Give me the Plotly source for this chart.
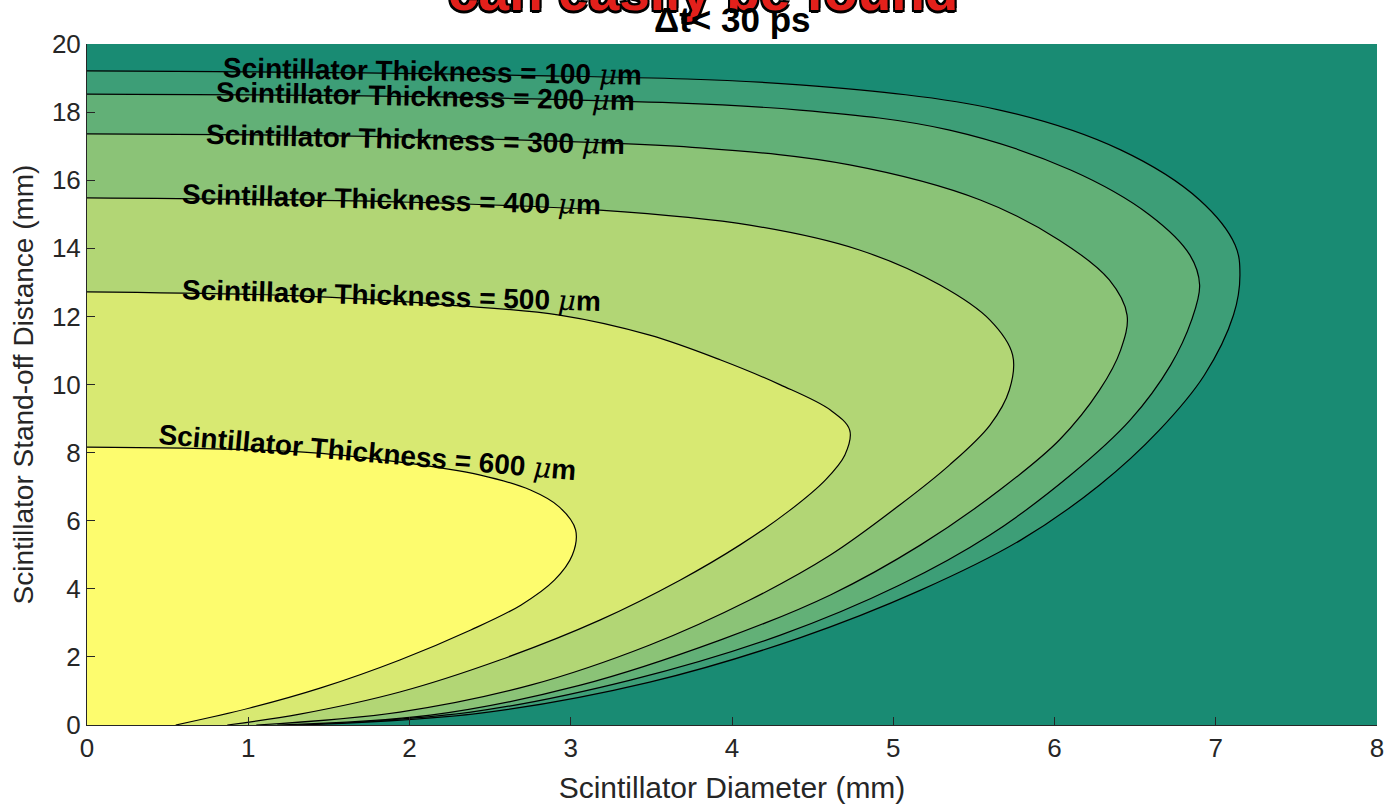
import plotly.graph_objects as go

# Contour levels (scintillator thickness, um)
levels = [100, 200, 300, 400, 500, 600]

# Contour lines: diameter (mm) vs stand-off distance (mm)
c100_x = [0, 2.56, 4.42, 5.66, 6.41, 6.90, 7.12, 7.15, 7.11, 6.93, 6.65, 6.28, 5.79, 5.17, 4.42, 3.49, 2.44, 1.32]
c100_y = [19.21, 19.09, 18.80, 18.06, 16.89, 15.42, 14.10, 13.22, 12.04, 10.28, 8.66, 7.05, 5.43, 3.96, 2.56, 1.26, 0.35, 0]
c200_x = [0, 2.56, 4.42, 5.35, 6.10, 6.59, 6.84, 6.90, 6.85, 6.72, 6.47, 6.10, 5.60, 5.04, 4.30, 3.37, 2.38, 1.26]
c200_y = [18.53, 18.41, 18.06, 17.47, 16.30, 14.98, 13.80, 12.92, 11.89, 10.57, 8.96, 7.34, 5.58, 4.11, 2.64, 1.32, 0.38, 0]
c300_x = [0, 1.94, 3.80, 4.73, 5.54, 6.03, 6.34, 6.45, 6.41, 6.28, 6.03, 5.66, 5.17, 4.61, 3.93, 3.06, 2.13, 1.18]
c300_y = [17.36, 17.27, 16.95, 16.45, 15.42, 14.24, 13.07, 12.04, 11.01, 9.84, 8.37, 6.90, 5.29, 3.82, 2.50, 1.17, 0.29, 0]
c400_x = [0, 1.94, 3.18, 4.11, 4.79, 5.29, 5.60, 5.74, 5.72, 5.60, 5.35, 5.04, 4.61, 4.11, 3.49, 2.75, 1.94, 1.05]
c400_y = [15.48, 15.36, 15.12, 14.68, 13.95, 12.92, 11.89, 10.87, 9.84, 8.81, 7.64, 6.46, 4.99, 3.67, 2.35, 1.17, 0.38, 0]
c500_x = [0, 1.32, 2.25, 2.93, 3.49, 3.93, 4.30, 4.61, 4.73, 4.70, 4.58, 4.36, 4.05, 3.68, 3.18, 2.56, 1.94, 1.32, 0.87]
c500_y = [12.72, 12.60, 12.33, 12.04, 11.45, 10.72, 9.99, 9.25, 8.66, 7.93, 7.20, 6.31, 5.29, 4.26, 3.08, 1.91, 0.97, 0.32, 0]
c600_x = [0, 1.32, 1.94, 2.44, 2.75, 2.93, 3.03, 3.01, 2.90, 2.69, 2.38, 1.94, 1.45, 1.01, 0.55]
c600_y = [8.16, 8.02, 7.72, 7.34, 6.90, 6.40, 5.73, 4.99, 4.26, 3.52, 2.79, 1.91, 1.09, 0.50, 0]

curves_x = [c100_x, c200_x, c300_x, c400_x, c500_x, c600_x]
curves_y = [c100_y, c200_y, c300_y, c400_y, c500_y, c600_y]

# Label positions (data coords) and rotation
label_x = [2.14, 2.10, 2.04, 1.89, 1.89, 1.74]
label_y = [19.18, 18.47, 17.21, 15.42, 12.60, 8.00]
label_angle = [1.0, 1.2, 1.4, 1.5, 1.6, 5.0]

x_ticks = [0, 1, 2, 3, 4, 5, 6, 7, 8]
y_ticks = [0, 2, 4, 6, 8, 10, 12, 14, 16, 18, 20]

bg_color = "#198b73"
fill_colors = ["#3d9e77", "#62b077", "#8bc377", "#b2d675", "#d8e972", "#fdfc6e"]

fig = go.Figure()
for cx, cy, col in zip(curves_x, curves_y, fill_colors):
    fig.add_trace(go.Scatter(
        x=cx, y=cy, mode="lines", fill="tozerox", fillcolor=col,
        line=dict(color="black", width=1.2, shape="spline", smoothing=1.0),
        hoverinfo="skip", showlegend=False))

font_family = "Liberation Sans, Arial, sans-serif"
mu = '<span style="font-family:DejaVu Serif;font-weight:normal"><i>\u03bc</i></span>'
for lv, lx, ly, ang in zip(levels, label_x, label_y, label_angle):
    fig.add_annotation(
        x=lx, y=ly, xref="x", yref="y",
        text=f"<b>Scintillator Thickness = {lv} </b>{mu}<b>m</b>",
        showarrow=False, textangle=ang,
        font=dict(family=font_family, size=28, color="black"))

# Titles
fig.add_annotation(
    x=0.5, y=1.0, xref="paper", yref="paper", yshift=20, xshift=-29,
    text="<b>can easily be found</b>", showarrow=False,
    xanchor="center", yanchor="bottom",
    font=dict(family=font_family, size=55, color="#e3201b",
              shadow="2px 2px 0 #000, -2px -2px 0 #000, 2px -2px 0 #000, -2px 2px 0 #000, 0 3px 0 #000"))
fig.add_annotation(
    x=0.5, y=1.0, xref="paper", yref="paper", yshift=3,
    text="<b>\u0394t< 30 ps</b>", showarrow=False,
    xanchor="center", yanchor="bottom",
    font=dict(family=font_family, size=35, color="black"))

fig.update_layout(
    template="none",
    width=1388, height=807,
    margin=dict(l=87, r=11, t=44, b=82),
    paper_bgcolor="white", plot_bgcolor=bg_color,
    font=dict(family=font_family, color="#262626"),
)
fig.update_xaxes(
    range=[0, 8], tickvals=x_ticks, ticks="inside", ticklen=8, tickcolor="#262626",
    showline=True, linecolor="#262626", linewidth=1, showgrid=False, zeroline=False,
    automargin=False,
    tickfont=dict(size=26, color="#262626"),
    title=dict(text="Scintillator Diameter (mm)", font=dict(size=30, color="#262626"), standoff=14))
fig.update_yaxes(
    range=[0, 20], tickvals=y_ticks, ticks="inside", ticklen=8, tickcolor="#262626",
    showline=True, linecolor="#262626", linewidth=1, showgrid=False, zeroline=False,
    automargin=False,
    tickfont=dict(size=26, color="#262626"),
    title=dict(text="Scintillator Stand-off Distance (mm)", font=dict(size=28, color="#262626"), standoff=10))

fig.write_html("out.html")
